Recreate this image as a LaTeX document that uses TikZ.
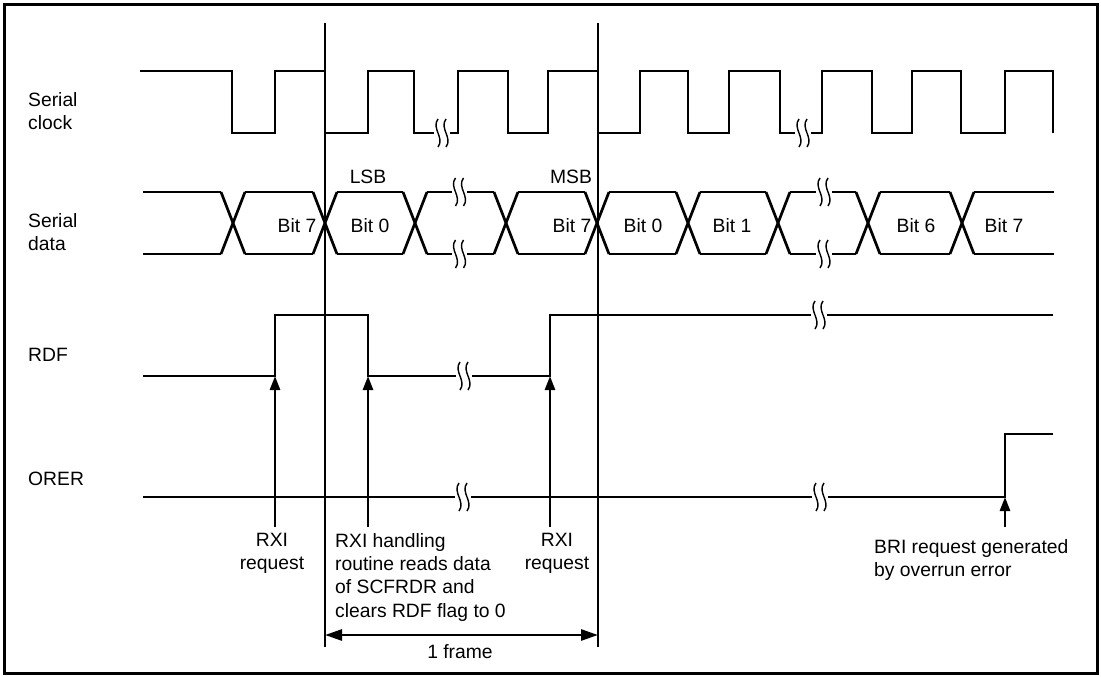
\documentclass[tikz,border=0pt]{standalone}
\usepackage{fontspec}
\setmainfont{Liberation Sans}
\usetikzlibrary{arrows.meta}
\newcommand\brkmark[2]{%
  \draw[brk] (#1-4,#2-14) .. controls (#1-11,#2-5) and (#1+3,#2+5) .. (#1-4,#2+14);
  \draw[brk] (#1+4,#2-14) .. controls (#1-3,#2-5) and (#1+11,#2+5) .. (#1+4,#2+14);
}
\begin{document}
\begin{tikzpicture}[x=1pt,y=-1pt,
  sig/.style={line width=2.7pt, line join=miter},
  brk/.style={line width=1.4pt},
  arr/.style={line width=2.7pt, -{Triangle[length=14pt,width=10pt]}},
  lbl/.style={font=\fontsize{19.3}{23.4}\selectfont, inner sep=0pt},
  txt/.style={font=\fontsize{19.3}{23.4}\selectfont, inner sep=0pt, align=left, anchor=north west},
  ctxt/.style={font=\fontsize{19.3}{23.4}\selectfont, inner sep=0pt, align=center, anchor=north}]
\useasboundingbox (0,0) rectangle (1101,677);
\draw[line width=3pt] (4,5) rectangle (1097,673);

% signal names
\node[txt, anchor=west] (nclk) at (28,111) {Serial\\clock};
\node[txt, anchor=west] (ndat) at (28,232) {Serial\\data};
\node[lbl, anchor=west] (nrdf) at (28,355) {RDF};
\node[lbl, anchor=west] (norer) at (28,479) {ORER};

% serial clock
\draw[sig] (140,71) -- (232,71) -- (232,133) -- (275,133) -- (275,71) -- (325,71) -- (325,133) -- (368,133) -- (368,71) -- (414,71) -- (414,133) -- (434,133);
\draw[sig] (450,133) -- (458,133) -- (458,71) -- (508,71) -- (508,133) -- (548,133) -- (548,71) -- (598,71) -- (598,133) -- (640,133) -- (640,71) -- (688,71) -- (688,133) -- (729,133) -- (729,71) -- (780,71) -- (780,133) -- (795,133);
\draw[sig] (811,133) -- (822,133) -- (822,71) -- (872,71) -- (872,133) -- (912,133) -- (912,71) -- (961,71) -- (961,133) -- (1005,133) -- (1005,71) -- (1053,71) -- (1053,133);
\brkmark{442}{133}
\brkmark{803}{133}

% serial data
\foreach \a/\b in {143/221,245/313,337/403,427/452,467/494,518/585,609/676,700/766,790/816,832/856,880/950,974/1054}{
  \draw[sig] (\a,192) -- (\b,192);
  \draw[sig] (\a,254) -- (\b,254);
}
\foreach \c in {233,325,415,506,597,688,778,868,962}{
  \draw[sig] (\c-12,192) -- (\c+12,254);
  \draw[sig] (\c-12,254) -- (\c+12,192);
}
\brkmark{459.5}{192}
\brkmark{459.5}{254}
\brkmark{824}{192}
\brkmark{824}{254}

\node[lbl] (lsb) at (368,177) {LSB};
\node[lbl] (msb) at (571,177) {MSB};
\node[lbl] (b7a) at (297,226) {Bit 7};
\node[lbl] (b0a) at (370,226) {Bit 0};
\node[lbl] (b7b) at (572,226) {Bit 7};
\node[lbl] (b0b) at (643,226) {Bit 0};
\node[lbl] (b1) at (732,226) {Bit 1};
\node[lbl] (b6) at (916,226) {Bit 6};
\node[lbl] (b7c) at (1004,226) {Bit 7};

% RDF
\draw[sig] (143,376) -- (275,376) -- (275,315) -- (368,315) -- (368,376) -- (456,376);
\draw[sig] (472,376) -- (550,376) -- (550,315) -- (811,315);
\draw[sig] (827,315) -- (1053,315);
\brkmark{464}{376}
\brkmark{819}{315}

% ORER
\draw[sig] (143,497) -- (455,497);
\draw[sig] (471,497) -- (812,497);
\draw[sig] (828,497) -- (1005,497) -- (1005,434) -- (1053,434);
\brkmark{463}{497}
\brkmark{820}{497}

% frame markers
\coordinate (m1t) at (325,23);
\coordinate (m1b) at (325,647);
\coordinate (m2t) at (598,23);
\coordinate (m2b) at (598,647);
\draw[sig] (m1t) -- (m1b);
\draw[sig] (m2t) -- (m2b);

% request arrows
\coordinate (a1s) at (275,527); \coordinate (a1e) at (275,376);
\coordinate (a2s) at (368,527); \coordinate (a2e) at (368,376);
\coordinate (a3s) at (550,527); \coordinate (a3e) at (550,376);
\coordinate (a4s) at (1005,527); \coordinate (a4e) at (1005,497);
\draw[arr] (a1s) -- (a1e);
\draw[arr] (a2s) -- (a2e);
\draw[arr] (a3s) -- (a3e);
\draw[arr] (a4s) -- (a4e);

% texts
\node[ctxt] (rxi1) at (272,533) {RXI\\request};
\node[txt] (rxih) at (335,533) {RXI handling\\routine reads data\\of SCFRDR and\\clears RDF flag to 0};
\node[ctxt] (rxi2) at (557,533) {RXI\\request};
\node[txt] (bri) at (874,539) {BRI request generated\\by overrun error};

% 1 frame
\coordinate (f1) at (325,635);
\coordinate (f2) at (598,635);
\draw[line width=2.7pt, {Triangle[length=17pt,width=11pt]}-{Triangle[length=17pt,width=11pt]}] (f1) -- (f2);
\node[lbl] (frame) at (460,652) {1 frame};
\end{tikzpicture}
\end{document}
